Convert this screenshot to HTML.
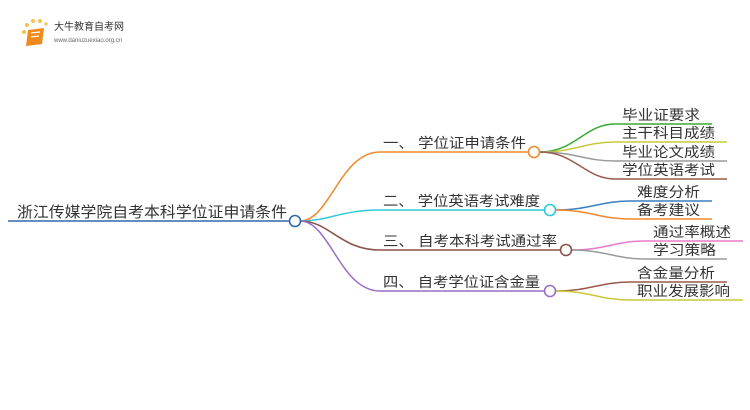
<!DOCTYPE html>
<html><head><meta charset="utf-8"><style>
html,body{margin:0;padding:0;background:#fff;width:750px;height:410px;overflow:hidden}
text{font-family:"Liberation Sans","Noto Sans CJK SC",sans-serif;fill:#333}
</style></head><body>
<svg width="750" height="410" viewBox="0 0 750 410" xmlns="http://www.w3.org/2000/svg">
<!-- logo -->
<g>
<circle cx="24" cy="32" r="2" fill="#f6c24a"/><circle cx="27" cy="25" r="2" fill="#f6c24a"/><circle cx="33" cy="21" r="2" fill="#f6c24a"/><circle cx="40" cy="21" r="2" fill="#f6c24a"/><circle cx="46" cy="24" r="1.6" fill="#f6c24a"/>
<path d="M28 30 L44 28 L42 44 L26 46 Z" fill="#f08a1c"/>
<path d="M31 33 L40 32 M31 37 L39 36" stroke="#fff" stroke-width="1.2"/>
<text x="54" y="30" style="font-size:10px;fill:#333">大牛教育自考网</text>
<text x="54" y="42" style="font-size:6px;fill:#666">www.daniuzuexiao.org.cn</text>
</g>
<g fill="none" stroke-width="1.5">
<line x1="8" y1="221" x2="290" y2="221" stroke="#2f6aa8"/>
<path d="M300 221 C330 221 340 152 380 152 L528 152" stroke="#f08a2c"/>
<path d="M300 221 C330 221 340 210 380 210 L544 210" stroke="#2fc8d8"/>
<path d="M300 221 C330 221 340 250 380 250 L560 250" stroke="#8b5248"/>
<path d="M300 221 C330 221 340 291 380 291 L544 291" stroke="#9a6dc8"/>
<path d="M540 152 C575 152 585 124 615 124 L712 124" stroke="#3aaa35"/>
<path d="M540 152 C575 152 585 142 615 142 L727 142" stroke="#c8c83a"/>
<path d="M540 152 C575 152 585 161 615 161 L727 161" stroke="#9a9a9a"/>
<path d="M540 152 C575 152 585 179 615 179 L727 179" stroke="#9a5a4a"/>
<path d="M556 210 C590 210 600 201 630 201 L712 201" stroke="#3a7fc0"/>
<path d="M556 210 C590 210 600 219 630 219 L712 219" stroke="#f08a2c"/>
<path d="M572 250 C605 250 615 241 645 241 L743 241" stroke="#e87ac8"/>
<path d="M572 250 C605 250 615 259 645 259 L727 259" stroke="#9a9a9a"/>
<path d="M556 291 C590 291 600 282 630 282 L727 282" stroke="#9a5a4a"/>
<path d="M556 291 C590 291 600 300 630 300 L743 300" stroke="#c8c83a"/>
</g>
<g fill="#fff" stroke-width="1.6">
<circle cx="295" cy="221" r="5.5" stroke="#2f6aa8"/>
<circle cx="534" cy="152" r="5.5" stroke="#f08a2c"/>
<circle cx="550" cy="210" r="5.5" stroke="#2fc8d8"/>
<circle cx="566" cy="250" r="5.5" stroke="#8b5248"/>
<circle cx="550" cy="291" r="5.5" stroke="#9a6dc8"/>
</g>
<g style="font-size:14px">
<text x="17" y="217" textLength="270" lengthAdjust="spacingAndGlyphs" style="font-size:15px">浙江传媒学院自考本科学位证申请条件</text>
<text x="383" y="148" textLength="143" lengthAdjust="spacingAndGlyphs">一、 学位证申请条件</text>
<text x="383" y="206" textLength="157" lengthAdjust="spacingAndGlyphs">二、 学位英语考试难度</text>
<text x="383" y="246" textLength="174" lengthAdjust="spacingAndGlyphs">三、 自考本科考试通过率</text>
<text x="383" y="287" textLength="157" lengthAdjust="spacingAndGlyphs">四、 自考学位证含金量</text>
<text x="622" y="120" textLength="78" lengthAdjust="spacingAndGlyphs">毕业证要求</text>
<text x="622" y="138" textLength="93" lengthAdjust="spacingAndGlyphs">主干科目成绩</text>
<text x="622" y="157" textLength="93" lengthAdjust="spacingAndGlyphs">毕业论文成绩</text>
<text x="622" y="175" textLength="93" lengthAdjust="spacingAndGlyphs">学位英语考试</text>
<text x="637" y="197" textLength="63" lengthAdjust="spacingAndGlyphs">难度分析</text>
<text x="637" y="215" textLength="63" lengthAdjust="spacingAndGlyphs">备考建议</text>
<text x="653" y="237" textLength="78" lengthAdjust="spacingAndGlyphs">通过率概述</text>
<text x="653" y="255" textLength="63" lengthAdjust="spacingAndGlyphs">学习策略</text>
<text x="637" y="278" textLength="78" lengthAdjust="spacingAndGlyphs">含金量分析</text>
<text x="637" y="296" textLength="93" lengthAdjust="spacingAndGlyphs">职业发展影响</text>
</g>
</svg>
</body></html>
